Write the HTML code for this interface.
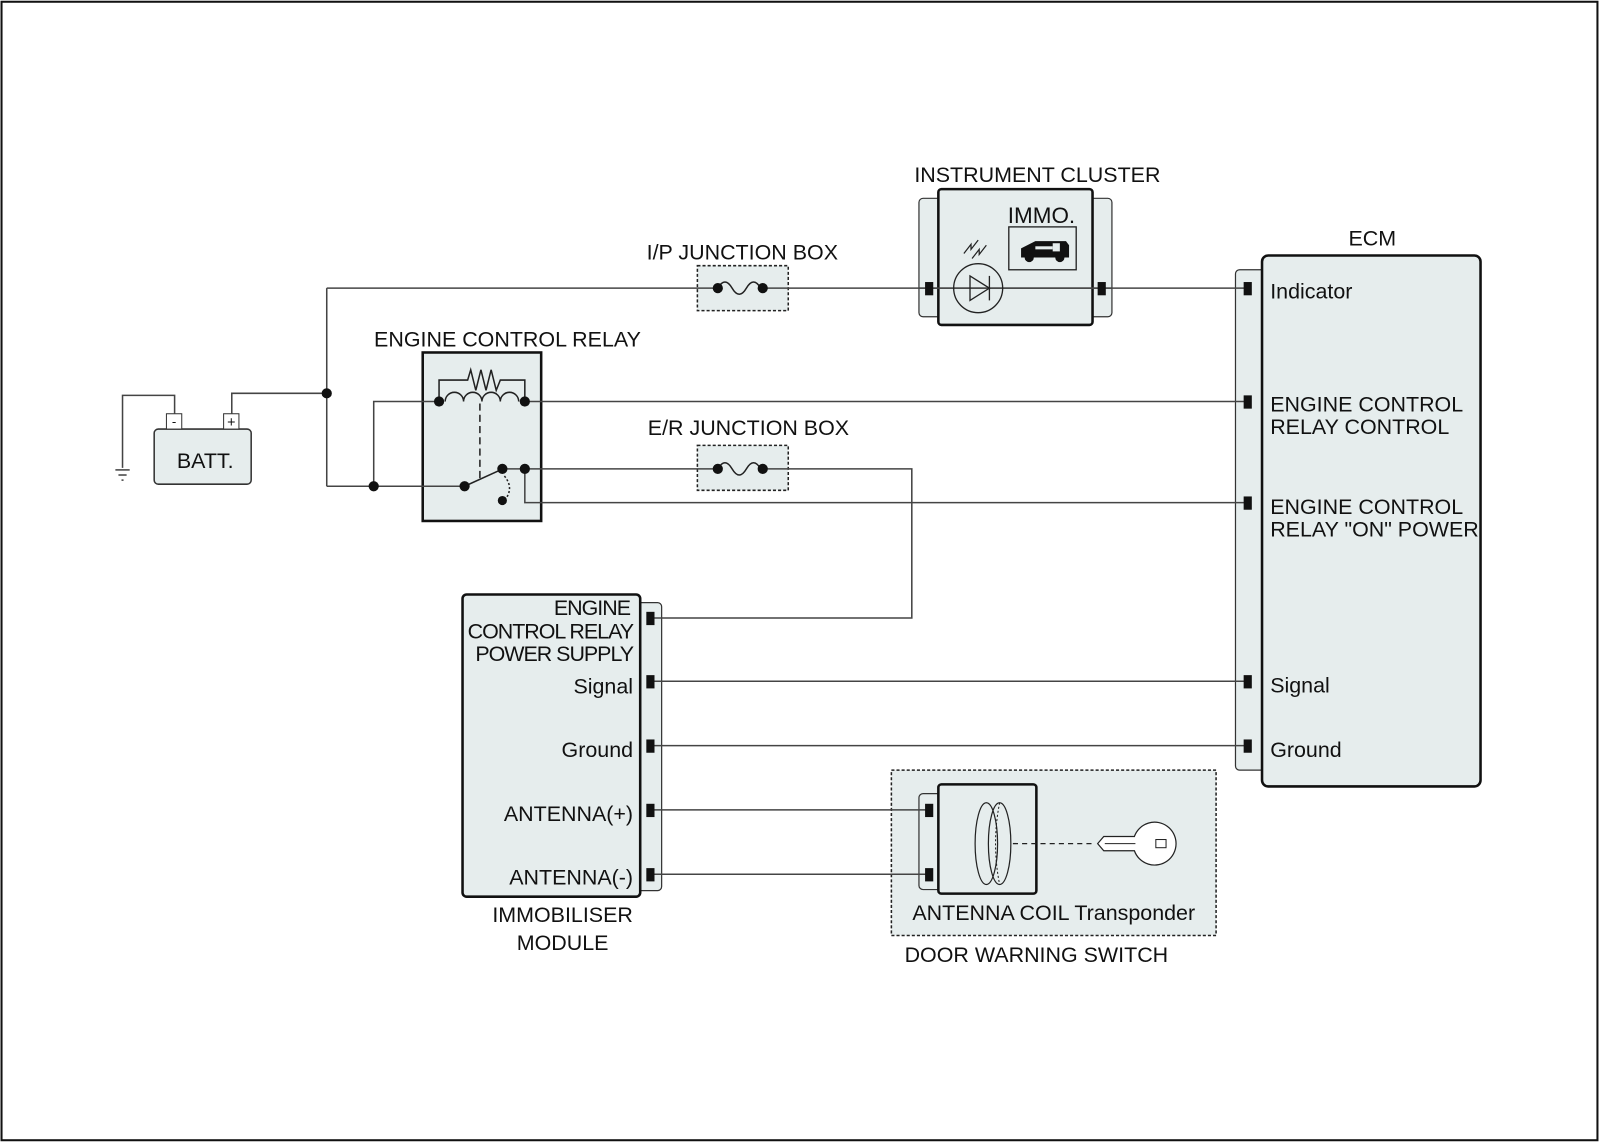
<!DOCTYPE html>
<html><head><meta charset="utf-8"><style>html,body{margin:0;padding:0;background:#fff}svg{display:block}text{font-family:"Liberation Sans",sans-serif;fill:#111}</style></head><body>
<svg width="1600" height="1143" viewBox="0 0 1567 1119" xmlns="http://www.w3.org/2000/svg">
<rect x="1.5" y="1.5" width="1563" height="1115" fill="#fff" stroke="#111" stroke-width="2"/>
<!-- battery -->
<rect x="151" y="420" width="95" height="54" rx="4" fill="#e6eded" stroke="#333" stroke-width="1.5"/>
<rect x="163" y="405" width="15" height="15" fill="#fff" stroke="#333"/><text x="170.5" y="417" font-size="13" text-anchor="middle">-</text>
<rect x="219" y="405" width="15" height="15" fill="#fff" stroke="#333"/><text x="226.5" y="418" font-size="14" text-anchor="middle">+</text>
<text x="201" y="458" font-size="21" text-anchor="middle">BATT.</text>
<!-- relay -->
<text x="497" y="339" font-size="21" text-anchor="middle">ENGINE CONTROL RELAY</text>
<rect x="414" y="345" width="116" height="165" fill="#e6eded" stroke="#111" stroke-width="2.5"/>
<!-- junction boxes -->
<text x="727" y="254" font-size="21" text-anchor="middle">I/P JUNCTION BOX</text>
<rect x="683" y="260" width="89" height="44" fill="#e6eded" stroke="#222" stroke-width="1.5" stroke-dasharray="3,2"/>
<text x="733" y="426" font-size="21" text-anchor="middle">E/R JUNCTION BOX</text>
<rect x="683" y="436" width="89" height="44" fill="#e6eded" stroke="#222" stroke-width="1.5" stroke-dasharray="3,2"/>
<!-- instrument cluster -->
<text x="1016" y="178" font-size="21" text-anchor="middle">INSTRUMENT CLUSTER</text>
<rect x="900" y="194" width="189" height="116" rx="4" fill="#e6eded" stroke="#333" stroke-width="1.2"/>
<rect x="919" y="185" width="151" height="133" rx="3" fill="#e6eded" stroke="#111" stroke-width="2.5"/>
<!-- ECM -->
<text x="1344" y="240" font-size="21" text-anchor="middle">ECM</text>
<rect x="1210" y="264" width="34" height="490" rx="4" fill="#e6eded" stroke="#333" stroke-width="1.2"/>
<rect x="1236" y="250" width="214" height="520" rx="6" fill="#e6eded" stroke="#111" stroke-width="2.5"/>
<!-- immobiliser -->
<rect x="620" y="590" width="28" height="282" rx="4" fill="#e6eded" stroke="#333" stroke-width="1.2"/>
<rect x="453" y="582" width="174" height="296" rx="4" fill="#e6eded" stroke="#111" stroke-width="2.5"/>
<!-- door warning switch -->
<rect x="873" y="754" width="318" height="162" fill="#e6eded" stroke="#222" stroke-width="1.5" stroke-dasharray="3,2"/>
<rect x="900" y="777" width="30" height="94" rx="4" fill="#e6eded" stroke="#333" stroke-width="1.2"/>
<rect x="919" y="768" width="96" height="107" rx="3" fill="#e6eded" stroke="#111" stroke-width="2.5"/>

<!-- wires -->
<g fill="none" stroke="#444" stroke-width="1.5">
<polyline points="171,405 171,387 120,387 120,458"/>
<line x1="113" y1="460" x2="127" y2="460"/><line x1="116" y1="465" x2="124" y2="465"/><line x1="119" y1="470" x2="121" y2="470"/>
<polyline points="227,405 227,385 320,385"/>
<line x1="320" y1="282" x2="320" y2="476"/>
<line x1="320" y1="282" x2="703" y2="282"/>
<line x1="320" y1="476" x2="455" y2="476"/>
<polyline points="366,476 366,393 430,393"/>
<line x1="514" y1="393" x2="1222" y2="393"/>
<line x1="492" y1="459" x2="703" y2="459"/>
<polyline points="514,459 514,492 1222,492"/>
<polyline points="747,459 893,459 893,605 640,605"/>
<line x1="747" y1="282" x2="1222" y2="282"/>
<line x1="900" y1="282" x2="1089" y2="282"/>
<line x1="640" y1="667" x2="1222" y2="667"/>
<line x1="640" y1="730" x2="1222" y2="730"/>
<line x1="640" y1="793" x2="910" y2="793"/>
<line x1="640" y1="856" x2="910" y2="856"/>
</g>
<circle cx="320" cy="385" r="5" fill="#111"/><circle cx="366" cy="476" r="5" fill="#111"/>
<!-- relay internals -->
<g fill="none" stroke="#222" stroke-width="1.5">
<polyline points="430,393 430,372 458,372 461,362 466,382 471,362 476,382 481,362 486,382 490,372 514,372 514,393"/>
<path d="M436,393 a9,9 0 0 1 18,0 a9,9 0 0 1 18,0 a9,9 0 0 1 18,0 a9,9 0 0 1 18,0"/>
<line x1="470" y1="395" x2="470" y2="470" stroke-dasharray="7,4"/>
<line x1="455" y1="476" x2="488" y2="461"/>
<path d="M494,466 q10,12 0,24" stroke-dasharray="2,2"/>
</g>
<circle cx="430" cy="393" r="5" fill="#111"/><circle cx="514" cy="393" r="5" fill="#111"/>
<circle cx="455" cy="476" r="5" fill="#111"/><circle cx="492" cy="459" r="5" fill="#111"/>
<circle cx="514" cy="459" r="5" fill="#111"/><circle cx="492" cy="490" r="4.5" fill="#111"/>
<!-- fuses -->
<rect x="705" y="276" width="40" height="12" fill="#e6eded"/>
<path d="M703,282 q7,-12 14,0 t14,0 t14,0" fill="none" stroke="#222" stroke-width="1.5"/>
<circle cx="703" cy="282" r="5" fill="#111"/><circle cx="747" cy="282" r="5" fill="#111"/>
<rect x="705" y="453" width="40" height="12" fill="#e6eded"/>
<path d="M703,459 q7,-12 14,0 t14,0 t14,0" fill="none" stroke="#222" stroke-width="1.5"/>
<circle cx="703" cy="459" r="5" fill="#111"/><circle cx="747" cy="459" r="5" fill="#111"/>
<!-- cluster internals -->
<circle cx="958" cy="282" r="24" fill="none" stroke="#222" stroke-width="1.3"/>
<polygon points="950,270 950,294 969,282" fill="none" stroke="#222" stroke-width="1.3"/>
<line x1="969" y1="270" x2="969" y2="294" stroke="#222" stroke-width="1.3"/>
<path d="M944,248 l7,-9 l0,5 l7,-9 M952,253 l7,-9 l0,5 l7,-9" fill="none" stroke="#222" stroke-width="1.2"/>
<text x="1020" y="218" font-size="22" text-anchor="middle">IMMO.</text>
<rect x="988" y="222" width="66" height="42" fill="#e6eded" stroke="#222" stroke-width="1.3"/>
<path d="M1000,252 l0,-9 l14,-7 l30,0 l3,4 l0,12 z" fill="#111"/>
<circle cx="1008" cy="252" r="4.5" fill="#111"/><circle cx="1038" cy="252" r="4.5" fill="#111"/>
<rect x="1014" y="241" width="17" height="3" fill="#e6eded"/><rect x="1031" y="238" width="7" height="8" fill="#e6eded"/>
<rect x="906" y="276" width="8" height="13" fill="#111"/><rect x="1075" y="276" width="8" height="13" fill="#111"/>
<!-- ECM connectors/labels -->
<g fill="#111"><rect x="1218" y="276" width="8" height="13"/><rect x="1218" y="387" width="8" height="13"/><rect x="1218" y="486" width="8" height="13"/><rect x="1218" y="661" width="8" height="13"/><rect x="1218" y="724" width="8" height="13"/></g>
<g font-size="21"><text x="1244" y="292">Indicator</text><text x="1244" y="403">ENGINE CONTROL</text><text x="1244" y="425">RELAY CONTROL</text><text x="1244" y="503">ENGINE CONTROL</text><text x="1244" y="525">RELAY "ON" POWER</text><text x="1244" y="678">Signal</text><text x="1244" y="741">Ground</text></g>
<!-- immobiliser connectors/labels -->
<g fill="#111"><rect x="633" y="599" width="8" height="13"/><rect x="633" y="661" width="8" height="13"/><rect x="633" y="724" width="8" height="13"/><rect x="633" y="787" width="8" height="13"/><rect x="633" y="850" width="8" height="13"/></g>
<g font-size="21" text-anchor="end" letter-spacing="-1"><text x="617" y="602">ENGINE</text><text x="620" y="625">CONTROL RELAY</text><text x="620" y="647">POWER SUPPLY</text></g>
<g font-size="21" text-anchor="end"><text x="620" y="679">Signal</text><text x="620" y="741">Ground</text><text x="620" y="804">ANTENNA(+)</text><text x="620" y="866">ANTENNA(-)</text></g>
<text x="551" y="903" font-size="21" text-anchor="middle">IMMOBILISER</text>
<text x="551" y="930" font-size="21" text-anchor="middle">MODULE</text>
<!-- door switch internals -->
<rect x="906" y="787" width="8" height="13" fill="#111"/><rect x="906" y="850" width="8" height="13" fill="#111"/>
<ellipse cx="966" cy="826" rx="11" ry="40" fill="none" stroke="#222" stroke-width="1.2"/>
<ellipse cx="979" cy="826" rx="11" ry="40" fill="none" stroke="#222" stroke-width="1.2"/>
<path d="M979,786 q-8,40 0,80" fill="none" stroke="#222" stroke-width="1" stroke-dasharray="2,2"/>
<line x1="992" y1="826" x2="1073" y2="826" stroke="#222" stroke-width="1.3" stroke-dasharray="5,4"/>
<path d="M1075,826 l6,-7 l30,0 a21,21 0 1 1 0,14 l-30,0 z" fill="#fff" stroke="#222" stroke-width="1.2"/>
<line x1="1082" y1="826" x2="1112" y2="826" stroke="#222" stroke-width="1"/>
<rect x="1132" y="822" width="10" height="8" fill="none" stroke="#222"/>
<text x="1032" y="901" font-size="21" text-anchor="middle">ANTENNA COIL Transponder</text>
<text x="1015" y="942" font-size="21" text-anchor="middle">DOOR WARNING SWITCH</text>
</svg>
</body></html>
